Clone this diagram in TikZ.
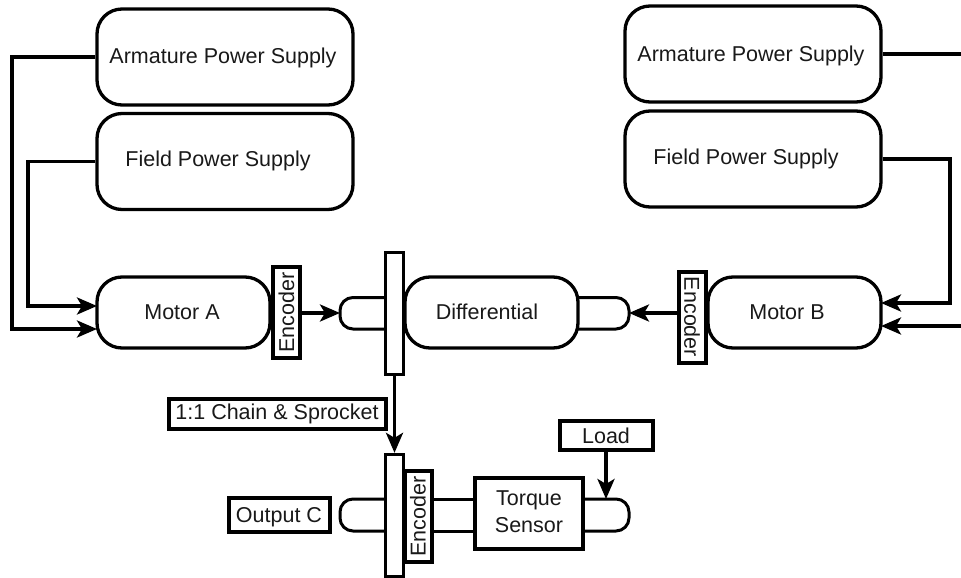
\documentclass[tikz,border=0pt]{standalone}
\usepackage{fontspec}
\setmainfont{Liberation Sans}
\usetikzlibrary{arrows.meta}
\tikzset{
  x=1pt,y=-1pt,
  txt/.style={inner sep=0pt,font=\fontsize{21.5}{27}\selectfont,align=center,text=black!90},
  round box/.style={draw=black,line width=3.3pt,rounded corners=25pt,inner sep=0pt,
    minimum width=#1},
  supply/.style={round box=256pt,minimum height=96pt},
  motorbox/.style={round box=173pt,minimum height=71pt},
  plate/.style={draw=black,line width=3.3pt,fill=white,inner sep=0pt,minimum width=18pt,minimum height=122pt},
  encoderbox/.style={draw=black,line width=4pt,fill=white,inner sep=0pt,minimum width=91pt,minimum height=27pt,
    font=\fontsize{21.5}{27}\selectfont,text=black!90},
  plainbox/.style={draw=black,line width=4pt,inner sep=0pt,font=\fontsize{21.5}{27}\selectfont,text=black!90},
  shaft/.style={draw=black,line width=3pt,rounded corners=13pt},
  wire/.style={draw=black,line width=3.5pt},
  arrowline/.style={wire,-{Stealth[length=20pt,width=17pt,inset=5pt]}},
}
\begin{document}
\begin{tikzpicture}
\useasboundingbox (0,0) rectangle (961,578);
% supplies
\node[supply] (armA) at (225,57) {};
\node[supply] (fieldA) at (225,161.5) {};
\node[supply] (armB) at (753,54) {};
\node[supply] (fieldB) at (753,159) {};
\node[txt] (armAt) at (223,58) {Armature Power Supply};
\node[txt] (fieldAt) at (218,161) {Field Power Supply};
\node[txt] (armBt) at (751,56) {Armature Power Supply};
\node[txt] (fieldBt) at (746,158.5) {Field Power Supply};
% motors
\node[motorbox] (motorA) at (183.5,312.5) {};
\node[motorbox] (diff) at (491.5,312.5) {};
\node[motorbox] (motorB) at (794.5,312.5) {};
\node[txt] (motorAt) at (182,312) {Motor A};
\node[txt] (difft) at (487,312) {Differential};
\node[txt] (motorBt) at (787,312) {Motor B};
% shafts
\draw[shaft] (386,297.5) -- (340,297.5) -- (340,329) -- (386,329);
\draw[shaft] (578,297.5) -- (629,297.5) -- (629,329) -- (578,329);
\draw[shaft] (385,499) -- (340,499) -- (340,531) -- (385,531);
\draw[shaft] (583,499) -- (629,499) -- (629,531) -- (583,531);
\draw[shaft] (432,499) -- (476,499);
\draw[shaft] (432,531) -- (476,531);
% plates and encoders
\node[plate] (plate1) at (394.5,313.5) {};
\node[plate] (plate2) at (394.5,515.5) {};
\node[encoderbox,rotate=90] (encA) at (286.5,312.5) {Encoder};
\node[encoderbox,rotate=-90] (encB) at (692,317) {Encoder};
\node[encoderbox,rotate=90] (encC) at (418,516.5) {Encoder};
% boxes
\node[plainbox,minimum width=217pt,minimum height=30pt] (chain) at (277,413.5) {1:1 Chain \& Sprocket};
\node[plainbox,minimum width=101pt,minimum height=34pt,text depth=0pt] (output) at (279,514.5) {Output C};
\node[plainbox,minimum width=93pt,minimum height=29pt] (load) at (606,435.5) {Load};
\node[draw=black,line width=3.3pt,fill=white,minimum width=108pt,minimum height=71pt] (torque) at (529,513.5) {};
\node[txt] (torquet) at (529,512) {Torque\\Sensor};
% connector ends
\coordinate (ma1) at (97,306);
\coordinate (ma2) at (97,329);
\coordinate (mb1) at (881,303);
\coordinate (mb2) at (881,326);
\coordinate (ra) at (961,54);
\coordinate (rb) at (961,326);
\coordinate (sl) at (340,313);
\coordinate (sr) at (629,313);
\coordinate (rshafttop) at (606,499);
% connectors
\draw[arrowline] (armA.west) -| (12,329) -- (ma2);
\draw[arrowline] (fieldA.west) -| (28,306) -- (ma1);
\draw[wire] (armB.east) -- (ra);
\draw[arrowline] (fieldB.east) -| (950,303) -- (mb1);
\draw[arrowline] (rb) -- (mb2);
\draw[arrowline] (encA.south |- sl) -- (sl);
\draw[arrowline] (encB.south |- sr) -- (sr);
\draw[arrowline] (plate1.south) -- (plate2.north);
\draw[arrowline] (load.south) -- (rshafttop);
\end{tikzpicture}
\end{document}
